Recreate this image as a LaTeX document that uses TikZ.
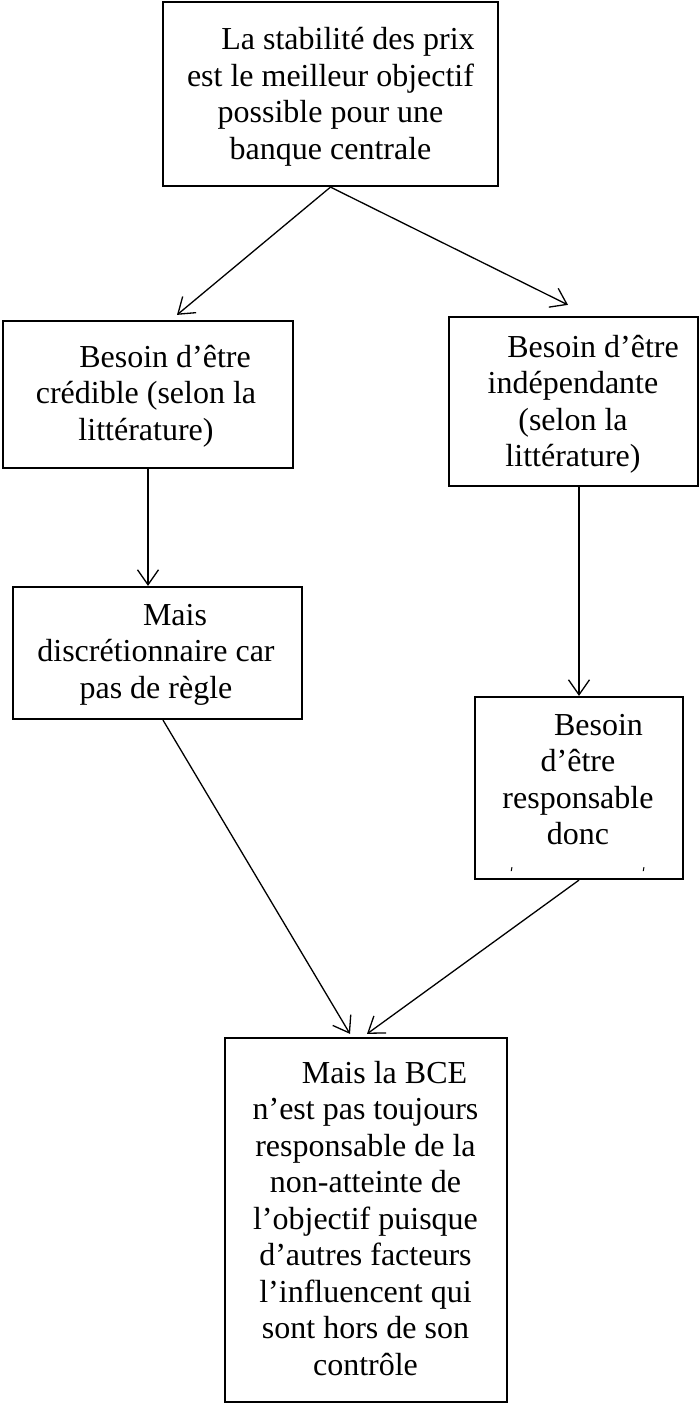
\documentclass[tikz,border=0pt]{standalone}
\usepackage{fontspec}
\setmainfont{Liberation Serif}
\usetikzlibrary{arrows.meta}
\begin{document}
\begin{tikzpicture}[x=1pt,y=-1pt,
  box/.style={draw=black, line width=2.2pt, inner sep=0pt},
  txt/.style={anchor=base, inner sep=0pt, font=\fontsize{32}{36.5}\selectfont},
  arr/.style={line width=1.3pt, -{Straight Barb[length=15pt,width=21pt,line width=1.3pt]}}]
\useasboundingbox (0,0) rectangle (700,1405);
% boxes
\node[box, minimum width=335pt, minimum height=184pt] (top) at (330.5,94) {};
\node[box, minimum width=290pt, minimum height=147pt] (l1) at (148,394.5) {};
\node[box, minimum width=249pt, minimum height=169pt] (r1) at (573.5,401.5) {};
\node[box, minimum width=289pt, minimum height=132pt] (l2) at (157.5,653) {};
\node[box, minimum width=208pt, minimum height=182pt] (r2) at (579,788) {};
\node[box, minimum width=282pt, minimum height=364pt] (bot) at (366,1220) {};
% texts
\node[txt] (ttop) at (330.5,50) {\parbox[t]{330pt}{\centering\hspace*{35pt}La stabilité des prix\\est le meilleur objectif\\possible pour une\\banque centrale}};
\node[txt] (tl1) at (146,367) {\parbox[t]{280pt}{\centering\hspace*{38pt}Besoin d’être\\crédible (selon la\\littérature)}};
\node[txt] (tr1) at (573,357) {\parbox[t]{240pt}{\centering\hspace*{40pt}Besoin d’être\\indépendante\\(selon la\\littérature)}};
\node[txt] (tl2) at (156,625) {\parbox[t]{280pt}{\centering\hspace*{38pt}Mais\\discrétionnaire car\\pas de règle}};
\node[txt] (tr2) at (578,735) {\parbox[t]{200pt}{\centering\hspace*{41pt}Besoin\\d’être\\responsable\\donc}};
\node[txt] (tbot) at (365.5,1083) {\parbox[t]{280pt}{\centering\hspace*{38pt}Mais la BCE\\n’est pas toujours\\responsable de la\\non-atteinte de\\l’objectif puisque\\d’autres facteurs\\l’influencent qui\\sont hors de son\\contrôle}};
% tiny clipped marks in the "donc" box
\draw[line width=1pt] ([xshift=-67pt,yshift=13pt]r2.south) -- ++(-0.8,4);
\draw[line width=1pt] ([xshift=65pt,yshift=13pt]r2.south) -- ++(-0.8,4);
% connectors
\draw[arr] (top.south) -- ([xshift=29pt,yshift=5pt]l1.north);
\draw[arr] (top.south) -- ([xshift=-5.5pt,yshift=11pt]r1.north);
\draw[arr] (l1.south) -- (l1.south |- l2.north);
\draw[arr] (r2.north |- r1.south) -- (r2.north);
\draw[arr] ([xshift=5.5pt]l2.south) -- ([xshift=-16pt,yshift=3pt]bot.north);
\draw[arr] (r2.south) -- ([xshift=1pt,yshift=3pt]bot.north);
\end{tikzpicture}
\end{document}
